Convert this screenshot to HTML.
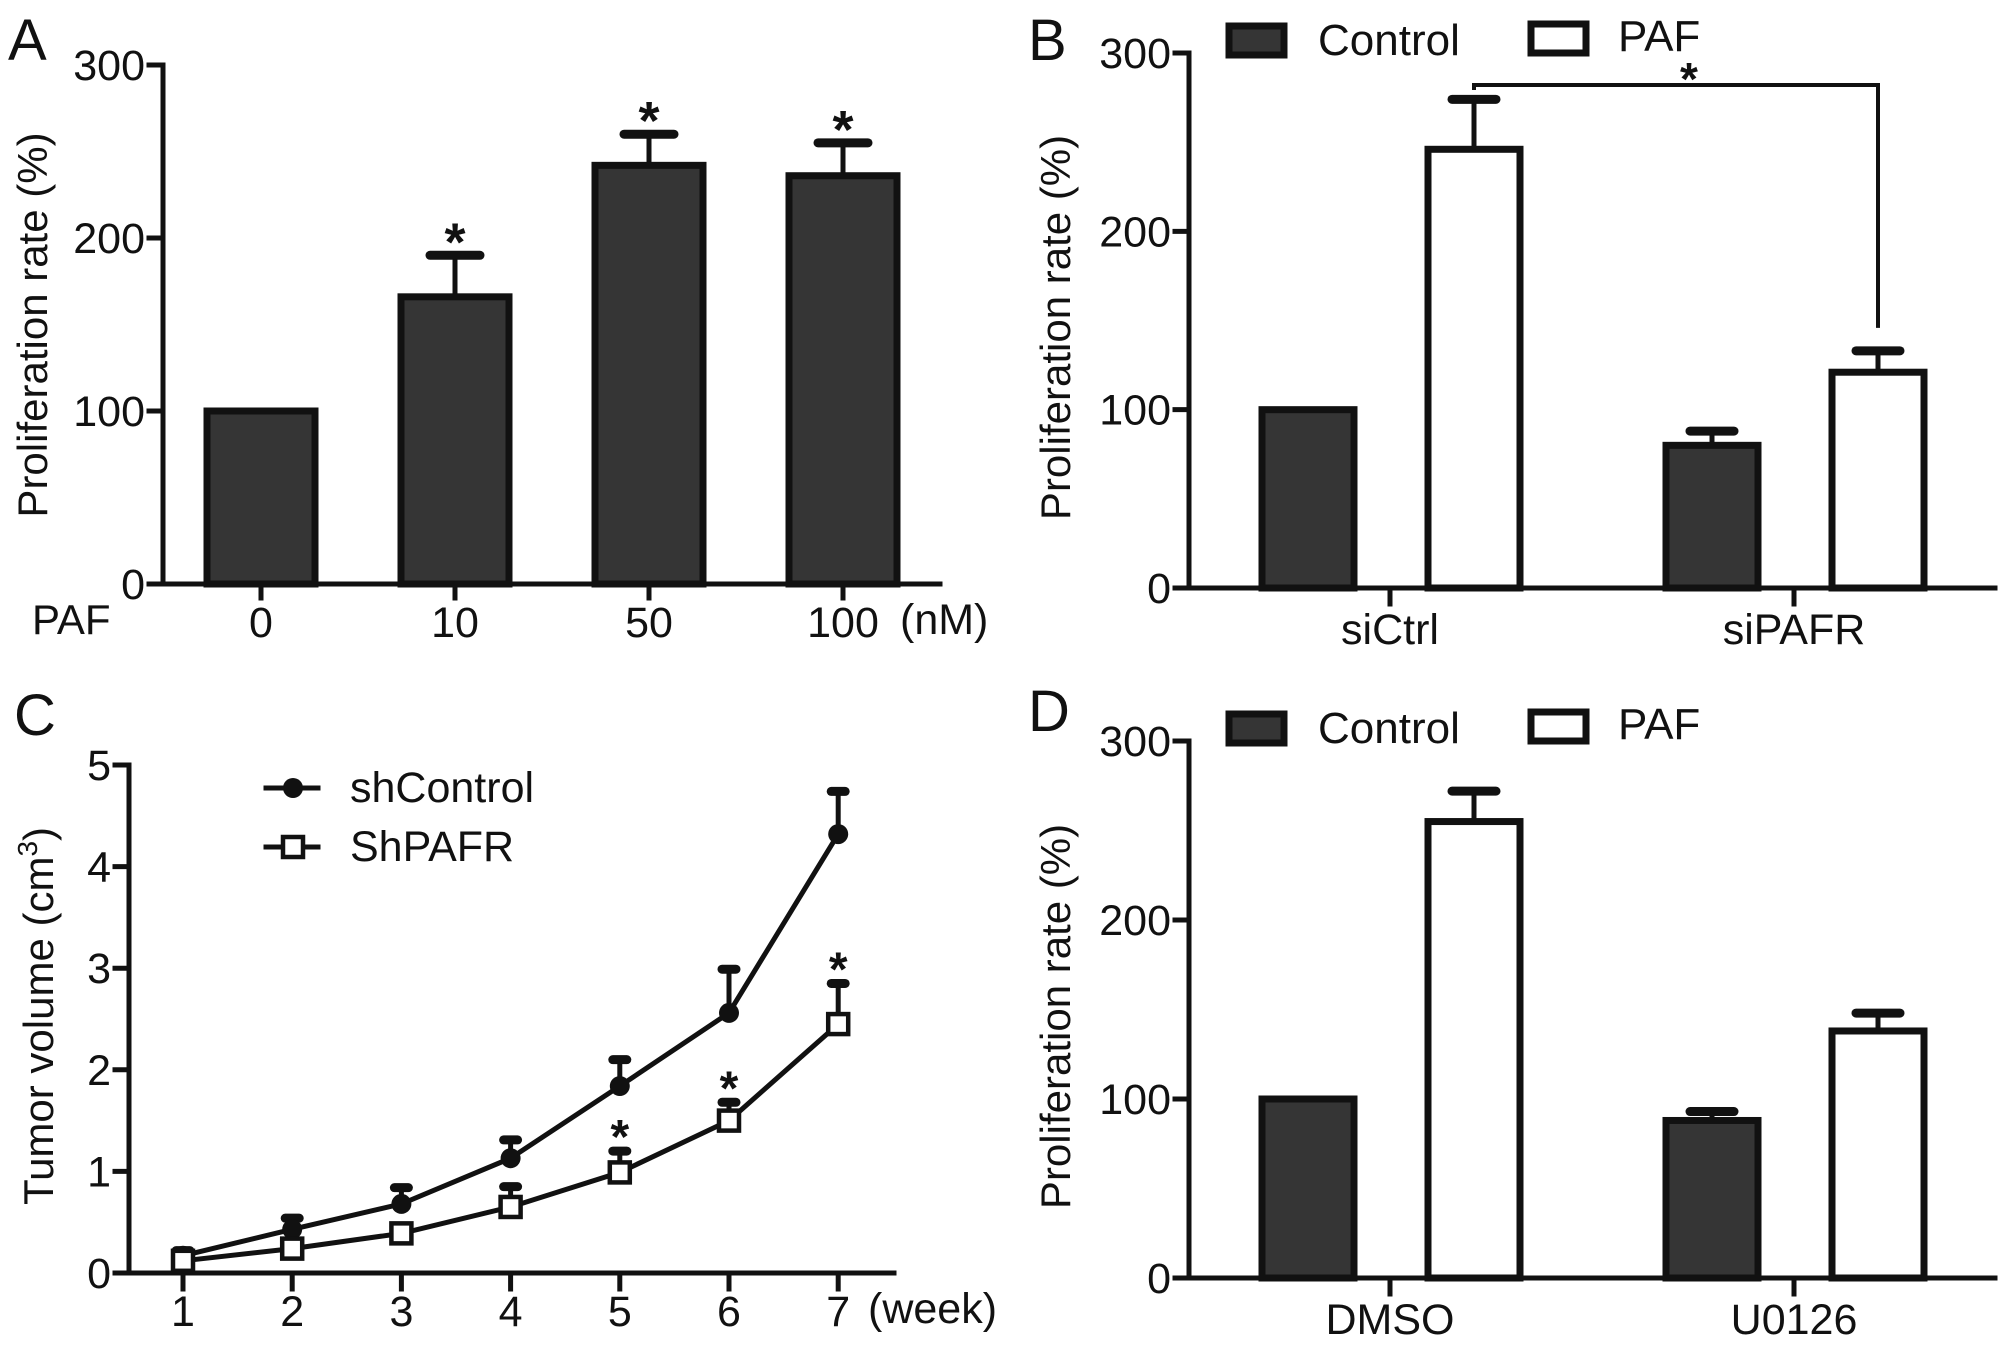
<!DOCTYPE html>
<html><head><meta charset="utf-8"><style>
html,body{margin:0;padding:0;background:#fff;}
svg{display:block;}
text{font-family:"Liberation Sans",sans-serif;fill:#111;}
.n{font-family:"Liberation Sans Narrow","Liberation Sans",sans-serif;}
</style></head><body>
<svg id="fig" width="2008" height="1345" viewBox="0 0 2008 1345" xmlns="http://www.w3.org/2000/svg"></svg>
<script>
// Panel A data
const aCats = ["0","10","50","100"];
const aVals = [100,166,242,236];
const aErr = [100,190,260,255];
const aStar = [false,true,true,true];
// Panel B data
const bGroups = ["siCtrl","siPAFR"];
const bCtrl = [100,80];
const bCtrlErr = [100,88];
const bPaf = [246,121];
const bPafErr = [274,133];
// Panel C data
const cWeeks = [1,2,3,4,5,6,7];
const cShCtrl = [0.17,0.43,0.68,1.13,1.84,2.56,4.32];
const cShCtrlErr = [0.22,0.54,0.84,1.31,2.10,2.99,4.74];
const cShPafr = [0.12,0.24,0.39,0.65,0.99,1.50,2.45];
const cShPafrErr = [0.14,0.28,0.42,0.85,1.20,1.68,2.85];
const cStar = [false,false,false,false,true,true,true];
const cTicks = [0,1,2,3,4,5];
// Panel D data
const dGroups = ["DMSO","U0126"];
const dCtrl = [100,88];
const dCtrlErr = [100,93];
const dPaf = [255,138];
const dPafErr = [272,148];
const pctTicks = [0,100,200,300];

const NS="http://www.w3.org/2000/svg";
const svg=document.getElementById('fig');
function el(tag,attrs,parent,txt){const e=document.createElementNS(NS,tag);for(const k in attrs)e.setAttribute(k,attrs[k]);if(txt!==undefined)e.textContent=txt;(parent||svg).appendChild(e);return e;}
function line(x1,y1,x2,y2,w,p){return el('line',{x1,y1,x2,y2,stroke:'#111','stroke-width':w||5,'stroke-linecap':'square'},p);}

function yAxis(g,x,yTop,yBot,ticks,scale,fmt){
  const l=line(x,yTop,x,yBot,5,g);
  
  
  ticks.forEach(t=>{const y=scale(t);line(x-14,y,x,y,5,g);
    const tx=el('text',{x:x-18,y:y+15,'font-size':43,'text-anchor':'end',class:'n'},g,fmt?fmt(t):String(t));
    
    });
}
function ytitle(g,x,cy,txt,name){
  const t=el('text',{x:0,y:0,'font-size':42,'text-anchor':'middle',transform:`translate(${x},${cy}) rotate(-90)`},g);
  
  
  return t;
}
function panelLabel(x,y,t,name){const e=el('text',{x,y,'font-size':58},svg,t);
  
  }
function bar(g,x,w,y0,y,fill,name){const r=el('rect',{x,y,width:w,height:y0-y,fill,stroke:'#111','stroke-width':7},g);
  
  }
function err(g,cx,yv,ye,hw){line(cx,yv,cx,ye,5,g);el('line',{x1:cx-hw,y1:ye,x2:cx+hw,y2:ye,stroke:'#111','stroke-width':9,'stroke-linecap':'round'},g);}

// ---------- Panel A
(function(){
  const g=el('g',{});
  
  
  const ax=163,y0=584,y300=65;
  const ys=v=>y0-(v/300)*(y0-y300);
  const xs=i=>261+i*194;
  panelLabel(8,60,'A','panel-a-label');
  aCats.forEach((c,i)=>{
    const cx=xs(i);
    if(aErr[i]>aVals[i])err(g,cx,ys(aVals[i]),ys(aErr[i]),25);
    bar(g,cx-54,108,y0,ys(aVals[i]),'#353535','bar-'+c);
    line(cx,y0,cx,598,5,g);
    const t=el('text',{x:cx,y:637,'font-size':43,'text-anchor':'middle',class:'n'},g,c);
    
    
    if(aStar[i]){const s=el('text',{x:cx,y:ys(aErr[i])+5,'font-size':54,'font-weight':'bold','text-anchor':'middle'},g,'*');
      
      }
  });
  line(ax,y0,940,y0,5,g);
  yAxis(g,ax,y300,y0,pctTicks,ys);
  ytitle(g,47,325,'','y-axis-title').textContent='Proliferation rate (%)';
  const p=el('text',{x:32,y:634,'font-size':42},g,'PAF');
  
  
  const u=el('text',{x:900,y:634,'font-size':43,class:'n'},g,'(nM)');
  
  
})();

// ---------- grouped bar panels B & D
function grouped(name,label,labY,y300,y0,groups,ctrl,ctrlE,paf,pafE,bracket){
  const g=el('g',{});
  
  
  const ax=1189;
  const ys=v=>y0-(v/300)*(y0-y300);
  const gx=i=>1390+i*404;
  panelLabel(1028,labY,label,name+'-label');
  groups.forEach((gr,i)=>{
    const c1=gx(i)-82,c2=gx(i)+84;
    if(ctrlE[i]>ctrl[i])err(g,c1,ys(ctrl[i]),ys(ctrlE[i]),22);
    if(pafE[i]>paf[i])err(g,c2,ys(paf[i]),ys(pafE[i]),22);
    bar(g,c1-46,92,y0,ys(ctrl[i]),'#353535','control-bar-'+gr);
    bar(g,c2-46,92,y0,ys(paf[i]),'#ffffff','paf-bar-'+gr);
    line(gx(i),y0,gx(i),y0+16,5,g);
    const t=el('text',{x:gx(i),y:y0+56,'font-size':43,'text-anchor':'middle',class:'n'},g,gr);
    
    
  });
  line(ax,y0,1995,y0,5,g);
  yAxis(g,ax,y300,y0,pctTicks,ys);
  ytitle(g,1070,(y300+y0)/2+7,'','y-axis-title').textContent='Proliferation rate (%)';
  // legend
  const ly=y300-14;
  const lb1=el('rect',{x:1229,y:ly-13,width:55,height:29,fill:'#353535',stroke:'#111','stroke-width':7},g);
  
  
  const lt1=el('text',{x:1318,y:ly+16,'font-size':44,class:'n'},g,'Control');
  
  
  const lb2=el('rect',{x:1531,y:ly-15,width:55,height:29,fill:'#fff',stroke:'#111','stroke-width':7},g);
  
  
  const lt2=el('text',{x:1618,y:ly+12,'font-size':44,class:'n'},g,'PAF');
  
  
  if(bracket){
    const xL=gx(0)+84,xR=gx(1)+84,yb=85;
    el('polyline',{points:`${xL},${yb+5} ${xL},${yb} ${xR},${yb} ${xR},${ys(pafE[1])-23}`,fill:'none',stroke:'#111','stroke-width':4},g);
    const s=el('text',{x:1689,y:yb+10,'font-size':46,'font-weight':'bold','text-anchor':'middle'},g,'*');
    
    
  }
}
grouped('panel-b','B',60,53,588,bGroups,bCtrl,bCtrlErr,bPaf,bPafErr,true);
grouped('panel-d','D',731,741,1278,dGroups,dCtrl,dCtrlErr,dPaf,dPafErr,false);

// ---------- Panel C
(function(){
  const g=el('g',{});
  
  
  const ax=129,y0=1273,y5=765;
  const ys=v=>y0-(v/5)*(y0-y5);
  const xs=w=>183+(w-1)*109.2;
  panelLabel(14,735,'C','panel-c-label');
  line(ax,y0,894,y0,5,g);
  yAxis(g,ax,y5,y0,cTicks,ys);
  cWeeks.forEach(w=>{line(xs(w),y0,xs(w),y0+16,5,g);
    const t=el('text',{x:xs(w),y:1326,'font-size':43,'text-anchor':'middle',class:'n'},g,String(w));
    
    });
  const wk=el('text',{x:868,y:1323,'font-size':43,class:'n'},g,'(week)');
  
  
  const t=ytitle(g,53,1016,'','y-axis-title');
  t.textContent='Tumor volume (cm';
  el('tspan',{dy:-16,'font-size':28},t,'3');
  el('tspan',{dy:16},t,')');
  // error bars
  cWeeks.forEach((w,i)=>{
    if(cShCtrlErr[i]>cShCtrl[i])err(g,xs(w),ys(cShCtrl[i]),ys(cShCtrlErr[i]),7);
    if(cShPafrErr[i]>cShPafr[i])err(g,xs(w),ys(cShPafr[i]),ys(cShPafrErr[i]),7);
  });
  const l1=el('polyline',{points:cWeeks.map((w,i)=>xs(w)+','+ys(cShCtrl[i])).join(' '),fill:'none',stroke:'#111','stroke-width':5},g);
  
  
  const l2=el('polyline',{points:cWeeks.map((w,i)=>xs(w)+','+ys(cShPafr[i])).join(' '),fill:'none',stroke:'#111','stroke-width':5},g);
  
  
  cWeeks.forEach((w,i)=>{
    const c=el('circle',{cx:xs(w),cy:ys(cShCtrl[i]),r:10,fill:'#111'},g);
    
    
    const s=el('rect',{x:xs(w)-10,y:ys(cShPafr[i])-10,width:20,height:20,fill:'#fff',stroke:'#111','stroke-width':4.5},g);
    
    
    if(cStar[i]){const st=el('text',{x:xs(w),y:ys(cShPafrErr[i])+2,'font-size':48,'font-weight':'bold','text-anchor':'middle'},g,'*');
      
      }
  });
  // legend
  line(266,788,318,788,5,g);
  el('circle',{cx:293,cy:788,r:10,fill:'#111'},g);
  const t1=el('text',{x:350,y:802,'font-size':43,class:'n'},g,'shControl');
  
  
  line(266,847,318,847,5,g);
  el('rect',{x:283,y:837,width:20,height:20,fill:'#fff',stroke:'#111','stroke-width':4.5},g);
  const t2=el('text',{x:350,y:861,'font-size':43,class:'n'},g,'ShPAFR');
  
  
})();
</script>
</body></html>
